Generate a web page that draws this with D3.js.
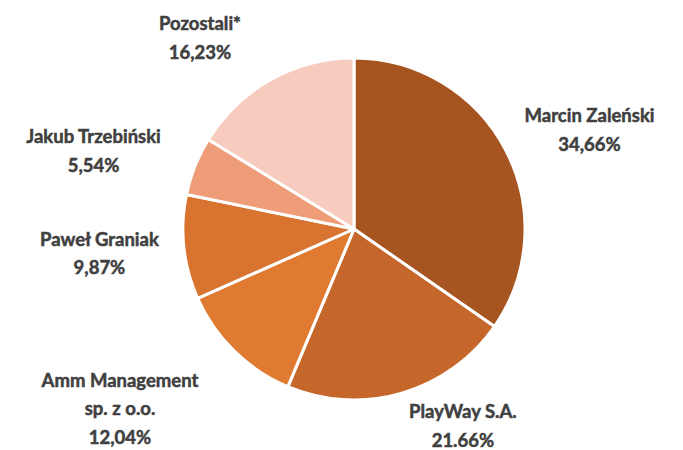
<!DOCTYPE html>
<html lang="pl">
<head>
<meta charset="UTF-8">
<title>Akcjonariat</title>
<style>
  body { margin: 0; background: #fff; }
  svg { display: block; }
  .lbl { font-family: Lato, "Open Sans", sans-serif; font-weight: 700; font-size: 18.5px; fill: #404040; stroke: #404040; stroke-width: 0.5px; }
</style>
</head>
<body>
<div id="chart"></div>
<script src="https://d3js.org/d3.v7.min.js"></script>
<script>
  // dane
  const names = ['Marcin Zaleński', 'PlayWay S.A.', 'Amm Management\nsp. z o.o.', 'Paweł Graniak', 'Jakub Trzebiński', 'Pozostali*'];
  const values = [34.66, 21.66, 12.04, 9.87, 5.54, 16.23];
  const valueLabels = ['34,66%', '21.66%', '12,04%', '9,87%', '5,54%', '16,23%'];
  const colors = ['#A65521', '#C5672A', '#E17A31', '#D97430', '#EE9D78', '#F7CBBE'];

  const width = 683, height = 450;
  const cx = 354, cy = 229, R = 171;
  const labelR = 250;
  // przesunięcia etykiet (dopasowanie do układu Excela)
  const nudges = [[14, 17], [39, -43], [-59, 1], [-6, -2], [-28, 14], [-32, 27]];
  const lineH = 28.5;

  const svg = d3.select('#chart').append('svg')
    .attr('width', width).attr('height', height);

  const pie = d3.pie().sort(null).value(d => d);
  const arcs = pie(values);
  const arc = d3.arc().innerRadius(0).outerRadius(R);
  const labelArc = d3.arc().innerRadius(labelR).outerRadius(labelR);

  const g = svg.append('g').attr('transform', `translate(${cx},${cy})`);

  g.selectAll('path').data(arcs).enter().append('path')
    .attr('d', arc)
    .attr('fill', (d, i) => colors[i])
    .attr('stroke', '#fff')
    .attr('stroke-width', 3)
    .attr('stroke-linejoin', 'round');

  const lbl = g.selectAll('text').data(arcs).enter().append('text')
    .attr('class', 'lbl')
    .attr('text-anchor', 'middle')
    .attr('transform', (d, i) => {
      const c = labelArc.centroid(d);
      return `translate(${c[0] + nudges[i][0]},${c[1] + nudges[i][1]})`;
    });

  lbl.each(function (d, i) {
    const lines = names[i].split('\n').concat([valueLabels[i]]);
    const t = d3.select(this);
    const y0 = -(lines.length - 1) * lineH / 2;
    lines.forEach((s, k) => {
      t.append('tspan').attr('x', 0).attr('y', y0 + k * lineH)
        .attr('dy', '0.35em').text(s);
    });
  });
</script>
</body>
</html>
